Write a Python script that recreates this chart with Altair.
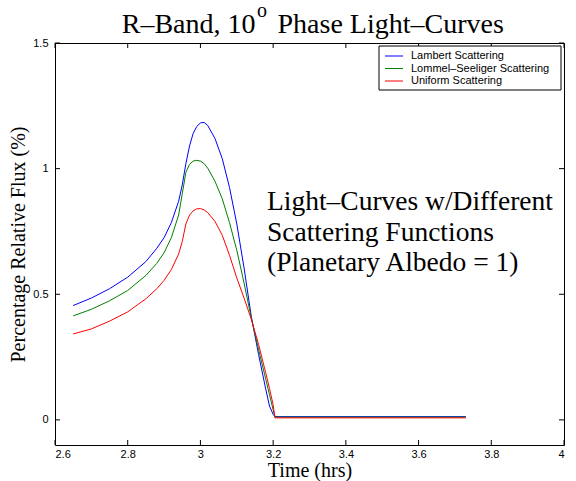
import altair as alt
import pandas as pd

# ---- data ----
time = [2.65, 2.70, 2.75, 2.80, 2.85, 2.88, 2.90, 2.92, 2.94, 2.95, 2.96, 2.97,
        2.98, 2.99, 3.00, 3.01, 3.02, 3.04, 3.06, 3.08, 3.10, 3.12, 3.14, 3.16,
        3.18, 3.19, 3.20, 3.205, 3.73]
lambert = [0.455, 0.485, 0.522, 0.568, 0.630, 0.683, 0.725, 0.785, 0.870, 0.935,
           1.020, 1.090, 1.140, 1.168, 1.182, 1.184, 1.172, 1.120, 1.040, 0.925,
           0.780, 0.605, 0.410, 0.260, 0.120, 0.055, 0.022, 0.013, 0.013]
lommel = [0.414, 0.440, 0.474, 0.515, 0.575, 0.623, 0.665, 0.725, 0.815, 0.900,
          0.985, 1.017, 1.030, 1.033, 1.030, 1.020, 1.002, 0.950, 0.880, 0.785,
          0.675, 0.545, 0.405, 0.280, 0.160, 0.100, 0.040, 0.011, 0.011]
uniform = [0.342, 0.362, 0.393, 0.430, 0.482, 0.522, 0.555, 0.598, 0.660, 0.710,
           0.780, 0.815, 0.832, 0.840, 0.841, 0.836, 0.825, 0.790, 0.735, 0.655,
           0.565, 0.485, 0.400, 0.300, 0.185, 0.125, 0.060, 0.008, 0.008]

series_names = ["Lambert Scattering", "Lommel–Seeliger Scattering", "Uniform Scattering"]
series_colors = ["#0000ff", "#008000", "#ff0000"]
x_ticks = [2.6, 2.8, 3.0, 3.2, 3.4, 3.6, 3.8, 4.0]
y_ticks = [0, 0.5, 1, 1.5]
title_parts = ["R–Band, 10", "o", "Phase Light–Curves"]
note_lines = ["Light–Curves w/Different", "Scattering Functions", "(Planetary Albedo = 1)"]
x_title = "Time (hrs)"
y_title = "Percentage Relative Flux (%)"

W, H = 509, 402
SERIF = "Liberation Serif"
SANS = "Liberation Sans"

rows = []
for name, vals in zip(series_names, [lambert, lommel, uniform]):
    for t, v in zip(time, vals):
        rows.append({"time": t, "flux": v, "series": name})
df = pd.DataFrame(rows)

xscale = alt.Scale(domain=[2.6, 4.0], nice=False, zero=False)
yscale = alt.Scale(domain=[-0.1, 1.5], nice=False, zero=False)

lines = alt.Chart(df).mark_line(strokeWidth=1).encode(
    x=alt.X("time:Q", scale=xscale, title=x_title,
            axis=alt.Axis(values=x_ticks, format="~g", labelPadding=3,
                          titleY=31, titleBaseline="alphabetic")),
    y=alt.Y("flux:Q", scale=yscale, title=y_title,
            axis=alt.Axis(values=y_ticks, format="~g", labelPadding=7, titlePadding=4)),
    color=alt.Color("series:N",
                    scale=alt.Scale(domain=series_names, range=series_colors),
                    legend=None),
)

xt = pd.DataFrame({"time": x_ticks})
yt = pd.DataFrame({"flux": y_ticks})
bottom_ticks = alt.Chart(xt).mark_rule(color="black", strokeWidth=1).encode(
    x=alt.X("time:Q", scale=xscale, title=x_title), y=alt.value(H), y2=alt.value(H - 5))
top_ticks = alt.Chart(xt).mark_rule(color="black", strokeWidth=1).encode(
    x=alt.X("time:Q", scale=xscale, title=x_title), y=alt.value(0), y2=alt.value(5))
left_ticks = alt.Chart(yt).mark_rule(color="black", strokeWidth=1).encode(
    y=alt.Y("flux:Q", scale=yscale, title=y_title), x=alt.value(0), x2=alt.value(5))
right_ticks = alt.Chart(yt).mark_rule(color="black", strokeWidth=1).encode(
    y=alt.Y("flux:Q", scale=yscale, title=y_title), x=alt.value(W), x2=alt.value(W - 5))

# ---- legend box (MATLAB style) ----
LX0, LX1, LY0, LY1 = 324, 506, 3, 47
row_y = [13, 25.5, 38]
legend_layers = [
    alt.Chart(pd.DataFrame({"k": [0]})).mark_rect(
        fill="white", stroke="black", strokeWidth=1
    ).encode(x=alt.value(LX0), x2=alt.value(LX1), y=alt.value(LY0), y2=alt.value(LY1))
]
for name, col, ry in zip(series_names, series_colors, row_y):
    legend_layers.append(
        alt.Chart(pd.DataFrame({"s": [name]})).mark_rule(color=col, strokeWidth=1).encode(
            x=alt.value(LX0 + 6), x2=alt.value(LX0 + 24), y=alt.value(ry)))
    legend_layers.append(
        alt.Chart(pd.DataFrame({"s": [name]})).mark_text(
            font=SANS, fontSize=11, align="left", baseline="middle", color="black"
        ).encode(x=alt.value(LX0 + 32), y=alt.value(ry), text="s:N"))

# ---- title with superscript ----
t1 = alt.Chart(pd.DataFrame({"s": [title_parts[0]]})).mark_text(
    font=SERIF, fontSize=28, align="right", baseline="alphabetic", color="black"
).encode(x=alt.value(200.5), y=alt.value(-10), text="s:N")
t2 = alt.Chart(pd.DataFrame({"s": [title_parts[1]]})).mark_text(
    font=SERIF, fontSize=20, align="left", baseline="alphabetic", color="black"
).encode(x=alt.value(202), y=alt.value(-26), text="s:N")
t3 = alt.Chart(pd.DataFrame({"s": [title_parts[2]]})).mark_text(
    font=SERIF, fontSize=28, align="left", baseline="alphabetic", color="black"
).encode(x=alt.value(222.5), y=alt.value(-10), text="s:N")

note = alt.Chart(pd.DataFrame({"s": ["\n".join(note_lines)]})).mark_text(
    font=SERIF, fontSize=27.5, align="left", baseline="alphabetic", color="black",
    lineBreak="\n", lineHeight=30.5
).encode(x=alt.value(212), y=alt.value(167), text="s:N")

chart = alt.layer(lines, bottom_ticks, top_ticks, left_ticks, right_ticks,
                  *legend_layers, t1, t2, t3, note).properties(
    width=W, height=H,
    autosize=alt.AutoSizeParams(type="none"),
    padding={"left": 55, "top": 43, "right": 12, "bottom": 36},
    background="white",
).configure_view(stroke="black", strokeWidth=1
).configure_axis(
    labelFont=SANS, labelFontSize=11, labelColor="black",
    titleFont=SERIF, titleFontSize=20, titleFontWeight="normal", titleColor="black",
    ticks=False, domain=False, grid=False,
)

chart.save("out.html", embed_options={"renderer": "svg", "actions": False})
